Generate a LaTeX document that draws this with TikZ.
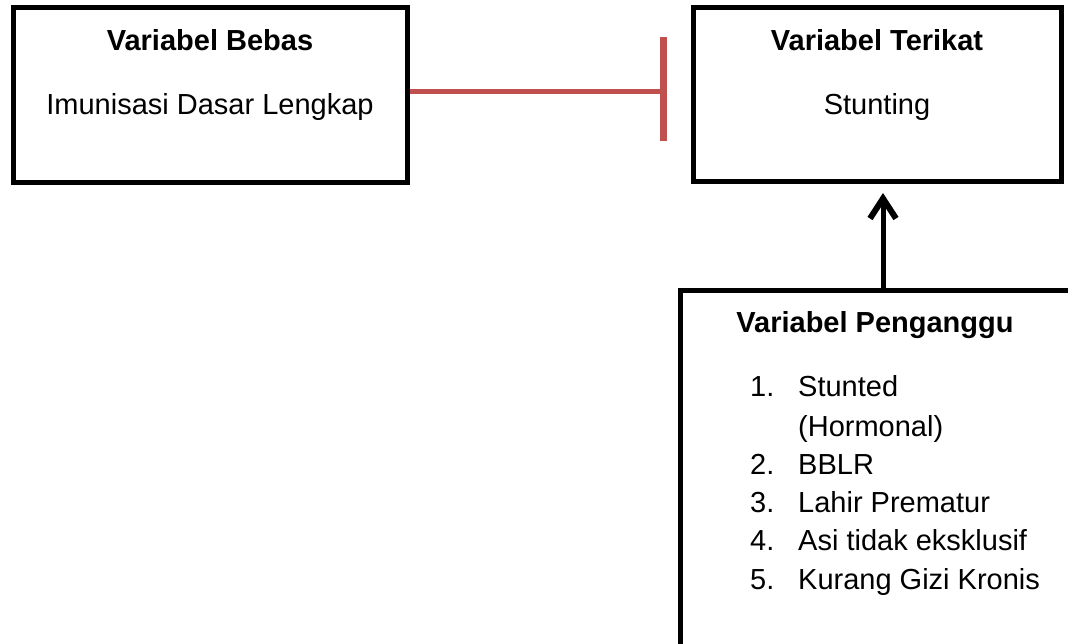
\documentclass[tikz,border=0pt]{standalone}
\usepackage{fontspec}
\setmainfont{Liberation Sans}
\usetikzlibrary{arrows.meta}
\definecolor{barred}{HTML}{C0504D}
\tikzset{
  box/.style={draw=black, line width=5pt, rectangle, inner sep=0pt},
  title/.style={font=\fontsize{29}{35}\selectfont\bfseries, anchor=base, inner sep=0pt},
  body/.style={font=\fontsize{29}{35}\selectfont, anchor=base, inner sep=0pt},
  item/.style={font=\fontsize{29}{35}\selectfont, anchor=base west, inner sep=0pt},
  redline/.style={draw=barred, line width=5pt},
  redbar/.style={draw=barred, line width=7pt},
  uparrow/.style={draw=black, line width=5pt, -{Straight Barb[length=20pt,width=26pt,line width=6pt]}}
}
\begin{document}
\begin{tikzpicture}[x=1pt,y=-1pt]
\useasboundingbox (0,0) rectangle (1068,644);
\clip (0,0) rectangle (1068,644);
\fill[white] (0,0) rectangle (1068,644);

% boxes
\node[box, minimum width=394pt, minimum height=175pt] (b1) at (210,95.5) {};
\node[box, minimum width=368pt, minimum height=174pt] (b2) at (877,95) {};
\node[box, minimum width=400pt, minimum height=355pt] (b3) at (880,468.5) {};

% texts box 1
\node[title] (t1) at (210,51) {Variabel Bebas};
\node[body] (s1) at (210,115) {Imunisasi Dasar Lengkap};

% texts box 2
\node[title] (t2) at (877,51) {Variabel Terikat};
\node[body] (s2) at (877,115) {Stunting};

% texts box 3
\node[title] (t3) at (875,332) {Variabel Penganggu};
\node[item] (n1) at (750,396) {1.};
\node[item] (i1) at (798,396) {Stunted};
\node[item] (i1b) at (798,436) {(Hormonal)};
\node[item] (n2) at (750,474) {2.};
\node[item] (i2) at (798,474) {BBLR};
\node[item] (n3) at (750,512) {3.};
\node[item] (i3) at (798,512) {Lahir Prematur};
\node[item] (n4) at (750,550) {4.};
\node[item] (i4) at (798,550) {Asi tidak eksklusif};
\node[item] (n5) at (750,589) {5.};
\node[item] (i5) at (798,589) {Kurang Gizi Kronis};

% red blocking connector
\coordinate (bar) at (663,92);
\coordinate (bartop) at (663,37);
\coordinate (barbot) at (663,141);
\draw[redline] (b1.east |- bar) -- (bar);
\draw[redbar] (bartop) -- (barbot);

% arrow from confounder to dependent
\coordinate (atip) at (883,193);
\draw[uparrow] (b3.north -| atip) -- (atip);
\end{tikzpicture}
\end{document}
